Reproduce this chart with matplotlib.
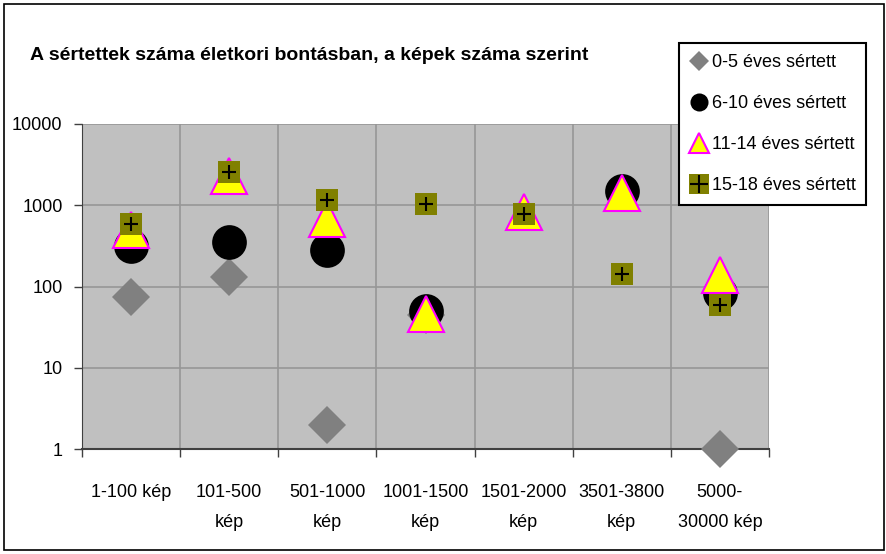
import numpy as np
import matplotlib.pyplot as plt
from matplotlib.lines import Line2D
from matplotlib.patches import Rectangle

plt.rcParams['font.family'] = ['Liberation Sans', 'DejaVu Sans']

categories = ['1-100 kép', '101-500\nkép', '501-1000\nkép', '1001-1500\nkép',
              '1501-2000\nkép', '3501-3800\nkép', '5000-\n30000 kép']
age_0_5 = [74, 130, 2, 45, np.nan, np.nan, 1]
age_6_10 = [312, 354, 282, 50, np.nan, 1480, 84]
age_11_14 = [500, 2300, 680, 46, 815, 1400, 137]
age_15_18 = [586, 2570, 1170, 1035, 780, 143, 60]
series_names = ['0-5 éves sértett', '6-10 éves sértett', '11-14 éves sértett', '15-18 éves sértett']
yticks = [1, 10, 100, 1000, 10000]

fig = plt.figure(figsize=(8.86, 5.54), dpi=100)
ax = fig.add_axes([82 / 886, 1 - 449 / 554, 687 / 886, 325 / 554])
ax.set_facecolor('#C0C0C0')

x = np.arange(len(categories))
ax.plot(x, age_0_5, 'D', ms=19, color='#808080', mew=0, zorder=3, clip_on=False)
ax.plot(x, age_6_10, 'o', ms=25, color='black', mew=0, zorder=4, clip_on=False)
ax.plot(x, age_11_14, '^', ms=26, mfc='yellow', mec='#FF00FF', mew=1.5, zorder=5, clip_on=False)
ax.plot(x, age_15_18, 's', ms=15.5, color='#808000', mew=0, zorder=6, clip_on=False)
ax.plot(x, age_15_18, '+', ms=10, color='black', mew=1.5, zorder=7, clip_on=False)

ax.set_yscale('log')
ax.set_ylim(1, 10000)
ax.set_xlim(-0.5, len(categories) - 0.5)
ax.yaxis.set_major_locator(plt.FixedLocator(yticks))
ax.yaxis.set_minor_locator(plt.NullLocator())
ax.set_yticklabels([str(v) for v in yticks], fontsize=13)
ax.set_xticks(x)
ax.set_xticklabels(categories, fontsize=13, linespacing=2.05)
ax.set_xticks(np.arange(-0.5, len(categories)), minor=True)
ax.tick_params(axis='x', which='major', length=0, pad=25)
ax.tick_params(axis='x', which='minor', length=6, width=1, color='#404040', direction='out')
ax.tick_params(axis='y', length=6, width=1, color='#404040', direction='out', pad=8)
ax.grid(True, axis='y', which='major', color='#969696', lw=1.2)
ax.grid(True, axis='x', which='minor', color='#969696', lw=1.2)
ax.set_axisbelow(True)
for s in ['top', 'right']:
    ax.spines[s].set_visible(False)
ax.spines['left'].set_color('#404040')
ax.spines['bottom'].set_color('#404040')
ax.spines['bottom'].set_linewidth(1.5)

fig.text(30 / 886, 1 - 55 / 554, 'A sértettek száma életkori bontásban, a képek száma szerint',
         fontsize=14, fontweight='bold', va='center', ha='left')

handles = [
    Line2D([], [], ls='', marker='D', ms=10, color='#808080', mew=0),
    Line2D([], [], ls='', marker='o', ms=13, color='black', mew=0),
    Line2D([], [], ls='', marker='^', ms=15, mfc='yellow', mec='#FF00FF', mew=1.5),
    (Line2D([], [], ls='', marker='s', ms=15, color='#808000', mew=0),
     Line2D([], [], ls='', marker='+', ms=13, color='black', mew=1.5)),
]
leg = fig.legend(handles, series_names, loc='upper left', bbox_to_anchor=(679 / 886, 1 - 43 / 554),
                 fontsize=13, frameon=True, fancybox=False, framealpha=1, edgecolor='black',
                 handlelength=1.0, handletextpad=0.2, labelspacing=1.33, borderpad=0.6,
                 borderaxespad=0)
leg.get_frame().set_linewidth(1.5)

fig.patches.append(Rectangle((4 / 886, 4 / 554), 880 / 886, 546 / 554, transform=fig.transFigure,
                             fill=False, edgecolor='black', lw=1.2))

fig.savefig('out.png', dpi=100)
